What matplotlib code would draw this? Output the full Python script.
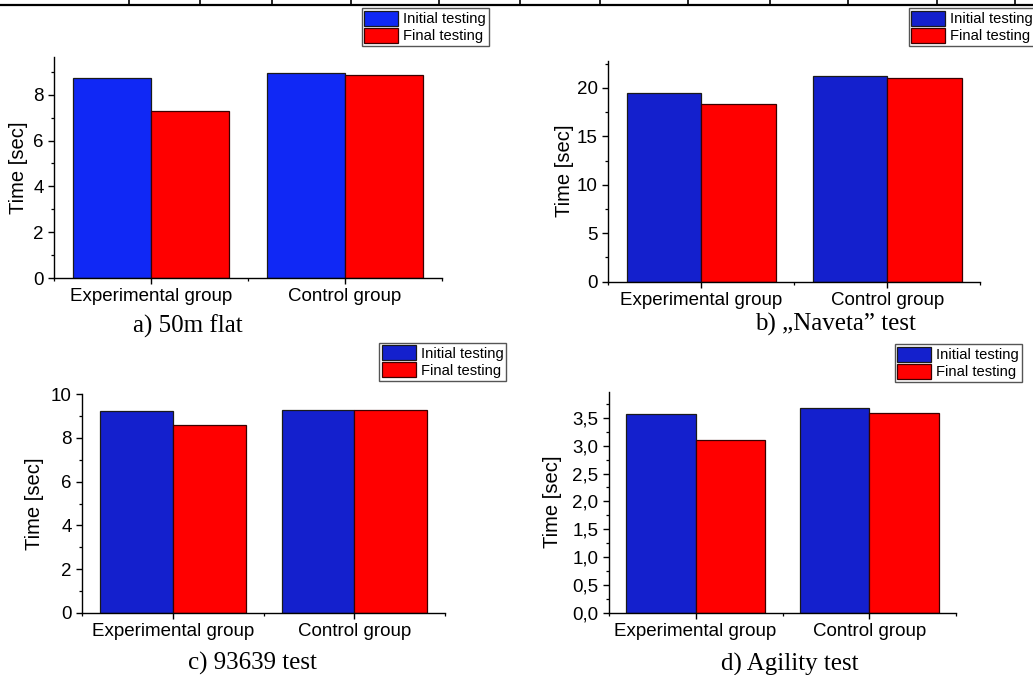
import numpy as np
import matplotlib.pyplot as plt
from matplotlib.ticker import MultipleLocator, FuncFormatter
from matplotlib.lines import Line2D

plt.rcParams['font.family'] = ['Liberation Sans', 'DejaVu Sans']

# dados
groups = ['Experimental group', 'Control group']
series = ['Initial testing', 'Final testing']

a_initial = [8.72, 8.94]
a_final = [7.31, 8.88]
b_initial = [19.42, 21.17]
b_final = [18.35, 21.03]
c_initial = [9.22, 9.30]
c_final = [8.60, 9.27]
d_initial = [3.57, 3.67]
d_final = [3.11, 3.58]

captions = ['a) 50m flat', 'b) \u201eNaveta\u201d test', 'c) 93639 test', 'd) Agility test']

W, H = 1033, 675
fig = plt.figure(figsize=(W / 100, H / 100), dpi=100)


def box(l, r, t, b):
    return [l / W, 1 - b / H, (r - l) / W, (b - t) / H]


panels = [
    # rect (px), ylim top, major, minor, blue, legend (x, y px), labelpad, caption (x, y px)
    (box(54, 442, 57, 278), a_initial, a_final, 9.65, 2, 1, '#1028F5', (361.7, 8.3), 4.0, (188, 326)),
    (box(608, 980.3, 60.7, 281.7), b_initial, b_final, 22.8, 5, 2.5, '#1420CD', (908.7, 8.3), 1.5, (835, 324)),
    (box(82.3, 445, 394.3, 612.7), c_initial, c_final, 10, 2, 1, '#1420CD', (379.3, 342.7), 4.8, (252, 663)),
    (box(608.7, 956.3, 391.7, 612.7), d_initial, d_final, 3.97, 0.5, 0.25, '#1420CD', (894.7, 344), 7.6, (790, 664)),
]

x = np.arange(1, len(groups) + 1)
w = 0.4

for i, (rect, ini, fin, ytop, maj, mnr, blue, leg, lpad, cap) in enumerate(panels):
    ax = fig.add_axes(rect)
    ax.bar(x - w / 2, ini, w, color=blue, edgecolor='#1a1a1a', linewidth=0.9, label=series[0])
    ax.bar(x + w / 2, fin, w, color='#FF0000', edgecolor='#3a0000', linewidth=0.9, label=series[1])
    ax.set_xlim(0.5, 2.5)
    ax.set_ylim(0, ytop)
    ax.set_xticks(x)
    ax.set_xticklabels(groups)
    ax.xaxis.set_minor_locator(plt.FixedLocator([0.5, 1.5, 2.5]))
    ax.yaxis.set_major_locator(MultipleLocator(maj))
    ax.yaxis.set_minor_locator(MultipleLocator(mnr))
    if i == 3:
        ax.yaxis.set_major_formatter(FuncFormatter(lambda v, p: ('%.1f' % v).replace('.', ',')))
    for s in ['top', 'right']:
        ax.spines[s].set_visible(False)
    for s in ['left', 'bottom']:
        ax.spines[s].set_linewidth(1.0)
    ax.tick_params(which='major', direction='out', length=4.5, width=1.0, labelsize=13.5, pad=3)
    ax.tick_params(which='minor', direction='out', length=2.3, width=0.9)
    ax.set_ylabel('Time [sec]', fontsize=14.5, labelpad=lpad)
    ax.legend(loc='upper left', bbox_to_anchor=(leg[0] / W, 1 - leg[1] / H),
              bbox_transform=fig.transFigure, fontsize=10.6, frameon=True, fancybox=False,
              edgecolor='#555555', framealpha=1, borderpad=0.18, borderaxespad=0,
              handlelength=2.3, handleheight=1.2, handletextpad=0.35, labelspacing=0.1)
    fig.text(cap[0] / W, 1 - cap[1] / H, captions[i], family='Liberation Serif',
             fontsize=18, ha='center', va='center')

# restos da tabela no topo da pagina
fig.add_artist(Line2D([0, 1], [1 - 5 / H, 1 - 5 / H], color='black', linewidth=1.6))
for vx in [129.3, 200, 271.7, 351, 439.3, 520.3, 599.7, 688, 770.3, 848, 937, 1015.3]:
    fig.add_artist(Line2D([vx / W, vx / W], [1, 1 - 5 / H], color='black', linewidth=1.2))

fig.savefig('out.png', dpi=100)
